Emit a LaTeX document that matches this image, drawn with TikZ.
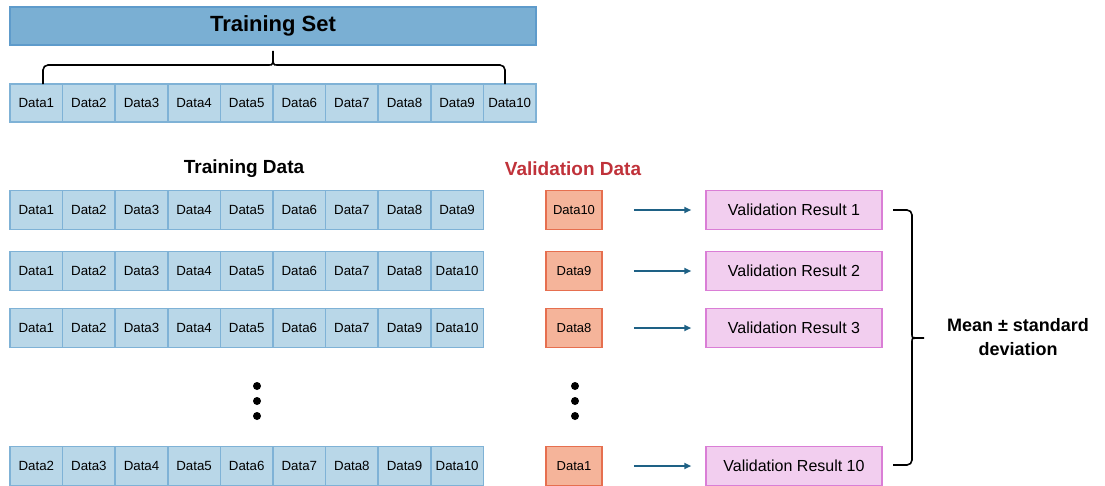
\documentclass[tikz,border=0pt]{standalone}
\usepackage{fontspec}
\setmainfont{Liberation Sans}
\usetikzlibrary{arrows.meta}
\definecolor{cellfill}{HTML}{B9D7E8}
\definecolor{cellline}{HTML}{7FB2D6}
\definecolor{setfill}{HTML}{7AAFD3}
\definecolor{setline}{HTML}{5E9BCB}
\definecolor{valfill}{HTML}{F5B49A}
\definecolor{valline}{HTML}{E66F4F}
\definecolor{resfill}{HTML}{F2CEEF}
\definecolor{resline}{HTML}{DA7ED6}
\definecolor{arrowcol}{HTML}{1E6185}
\definecolor{valtext}{HTML}{C0323A}
\begin{document}
\begin{tikzpicture}[x=1pt,y=-1pt,
  cell/.style={draw=cellline, fill=cellfill, line width=1.5pt, minimum width=52.6pt, minimum height=39pt, inner sep=0pt, font=\fontsize{13.3}{15}\selectfont},
  valbox/.style={draw=valline, fill=valfill, line width=1.5pt, minimum width=56pt, minimum height=39pt, inner sep=0pt, font=\fontsize{13}{15}\selectfont},
  resbox/.style={draw=resline, fill=resfill, line width=1.5pt, minimum width=176pt, minimum height=39pt, inner sep=0pt, font=\fontsize{16}{19}\selectfont},
  flow/.style={draw=arrowcol, line width=2pt, -{Triangle[length=7pt,width=6pt]}, shorten <=31pt, shorten >=14pt},
  bracepath/.style={draw=black, line width=1.6pt, rounded corners=5pt},
  heading/.style={font=\fontsize{19}{22}\selectfont\bfseries},
  dotmark/.style={circle, fill=black, inner sep=0pt, minimum size=8pt}
]
\useasboundingbox (0,0) rectangle (1105,485);

% Training set box
\node[draw=setline, fill=setfill, line width=1.5pt, minimum width=526pt, minimum height=38pt, inner sep=0pt, font=\fontsize{22}{26}\selectfont\bfseries] (set) at (273,26) {Training Set};

% top data row
\foreach \lab [count=\i] in {Data1,Data2,Data3,Data4,Data5,Data6,Data7,Data8,Data9,Data10}
  \node[cell, minimum height=38pt] (t\i) at ({10+52.6*(\i-0.5)},103) {\lab};

% top brace
\coordinate (bl) at (43,84);
\coordinate (br) at (505,84);
\coordinate (btip) at (273,48);
\draw[bracepath] (bl) -- (43,65) -- (264,65) .. controls (273,65) .. (btip) .. controls (273,65) .. (282,65) -- (505,65) -- (br);

% headings
\node[heading] (trhead) at (244,169) {Training Data};
\node[heading, text=valtext] (valhead) at (573,169) {Validation Data};

% rows
\foreach \lab [count=\i] in {Data1,Data2,Data3,Data4,Data5,Data6,Data7,Data8,Data9}
  \node[cell] (a\i) at ({10+52.6*(\i-0.5)},210) {\lab};
\foreach \lab [count=\i] in {Data1,Data2,Data3,Data4,Data5,Data6,Data7,Data8,Data10}
  \node[cell] (b\i) at ({10+52.6*(\i-0.5)},271) {\lab};
\foreach \lab [count=\i] in {Data1,Data2,Data3,Data4,Data5,Data6,Data7,Data9,Data10}
  \node[cell] (c\i) at ({10+52.6*(\i-0.5)},328) {\lab};
\foreach \lab [count=\i] in {Data2,Data3,Data4,Data5,Data6,Data7,Data8,Data9,Data10}
  \node[cell] (e\i) at ({10+52.6*(\i-0.5)},466) {\lab};

% validation boxes
\node[valbox] (va) at (574,210) {Data10};
\node[valbox] (vb) at (574,271) {Data9};
\node[valbox] (vc) at (574,328) {Data8};
\node[valbox] (ve) at (574,466) {Data1};

% results
\node[resbox] (ra) at (794,210) {Validation Result 1};
\node[resbox] (rb) at (794,271) {Validation Result 2};
\node[resbox] (rc) at (794,328) {Validation Result 3};
\node[resbox] (re) at (794,466) {Validation Result 10};

% arrows
\draw[flow] (va) -- (ra);
\draw[flow] (vb) -- (rb);
\draw[flow] (vc) -- (rc);
\draw[flow] (ve) -- (re);

% dots
\node[dotmark] (dl1) at (257,386) {};
\node[dotmark] (dl2) at (257,401) {};
\node[dotmark] (dl3) at (257,416) {};
\node[dotmark] (dr1) at (575,386) {};
\node[dotmark] (dr2) at (575,401) {};
\node[dotmark] (dr3) at (575,416) {};

% right brace
\coordinate (rt) at (893,210);
\coordinate (rbt) at (893,465);
\coordinate (rtip) at (927,338);
\draw[bracepath] (rt) -- (912,210) -- (912,330) .. controls (912,338) .. (rtip) .. controls (912,338) .. (912,346) -- (912,465) -- (rbt);

\node[font=\fontsize{18}{24}\selectfont\bfseries, align=center] (mean) at (1018,337) {Mean ± standard\\deviation};
\end{tikzpicture}
\end{document}
